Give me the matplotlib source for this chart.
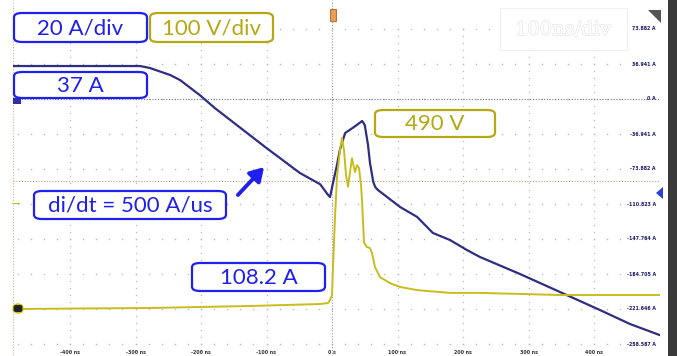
import numpy as np
import matplotlib
matplotlib.use('Agg')
from matplotlib import pyplot as plt
import matplotlib.patheffects as pe
from matplotlib.patches import FancyBboxPatch, Rectangle, Polygon, FancyArrowPatch

matplotlib.rcParams['font.family'] = ['Lato', 'DejaVu Sans']

# scope waveforms
# current (ch1), time in ns, amps
t_cur = [-487, -293, -278, -247, -232, -202, -179, -102, -49, -18, -6, -3,
         1.5, 7.6, 12, 20, 27, 38, 46, 50, 55, 58, 63, 66, 70, 84, 104,
         130, 154, 180, 206, 226, 287, 348, 409, 455, 504]
i_cur = [34.8, 34.8, 32.7, 25.3, 20.0, 4.2, -9.5, -50.7, -78.1, -90.0, -101.3, -103.4,
         -88.7, -69.7, -53.8, -35.9, -32.7, -27.4, -23.2, -27.4, -48.6, -67.5, -87.6,
         -92.9, -96.0, -103.4, -114.0, -124.5, -141.4, -148.8, -159.4, -166.8,
         -184.7, -203.7, -222.7, -237.5, -250.1]
# voltage (ch2), time in ns, volts
t_volt = [-487, -278, -125, -18, -6, -3, 0, 1.5, 4.6, 7.6, 12.2, 15.3, 18.3,
          21.4, 24.4, 27.5, 30.5, 33.6, 35.1, 38.2, 41.2, 44.3, 45.8, 48.9,
          53.4, 58.0, 61.1, 65.6, 73.3, 88.5, 103.8, 129.8, 180, 226, 348, 501]
v_volt = [0, 2.9, 8.6, 14.3, 17.1, 25.7, 40, 120, 263, 377, 454, 489, 454,
          383, 349, 391, 431, 403, 391, 411, 403, 354, 311, 189, 177, 174,
          160, 120, 91, 74, 63, 54, 46, 46, 40, 40]

# right scale labels (A) and time labels
amp_div = 36.941
amp_ticks = [73.882 - k * amp_div for k in range(10)]
time_ticks = [-400, -300, -200, -100, 0, 100, 200, 300, 400]
time_labels = ['-400 ns', '-300 ns', '-200 ns', '-100 ns', '0 s',
               '100 ns', '200 ns', '300 ns', '400 ns']

W, H = 677, 356
fig = plt.figure(figsize=(W / 100, H / 100), dpi=100)
fig.patch.set_facecolor('white')

# pixel helpers (screen coords from screenshot)
ns_per_px = 100 / 65.5
a_per_px = amp_div / 35.0
v_per_px = 100 / 35.0
def t_of(x):
    return (x - 332) * ns_per_px
def a_of(y):
    return (99 - y) * a_per_px
def v_of(y):
    return (309 - y) * v_per_px

x0, x1 = 13, 660
ax = fig.add_axes([x0 / W, 0, (x1 - x0) / W, 1])
ax.set_xlim(t_of(x0), t_of(x1))
ax.set_ylim(a_of(H), a_of(0))
ax.axis('off')
axv = ax.twinx()
axv.set_ylim(v_of(H), v_of(0))
axv.axis('off')

# graticule dots
gcol = '#b9b9b9'
for tt in time_ticks:
    if tt == 0:
        continue
    ys = np.arange(-258.587 - amp_div / 5 * 2, 80, amp_div / 5)
    ax.plot([tt] * len(ys), ys, ls='none', marker='s', ms=0.9, mew=0, color=gcol)
for aa in amp_ticks:
    xs = np.arange(-480, 500, 20)
    ax.plot(xs, [aa] * len(xs), ls='none', marker='s', ms=1.0, mew=0, color=gcol)
ax.axvline(0, color='#9a9a9a', ls=(0, (1, 1.5)), lw=0.8)
ax.axvline(t_of(x0), color='#d8b890', ls=(0, (1, 1.5)), lw=0.8)
ax.axvline(t_of(x1), color='#c8c8c8', ls=(0, (1, 2)), lw=0.8)
ax.axhline(0, color='#7a7a90', ls=(0, (1, 1.5)), lw=0.8)
ax.axhline(a_of(181), color='#c8a070', ls=(0, (1, 1.5)), lw=0.8)

# traces
axv.plot(t_volt, v_volt, color='#c9bd1c', lw=1.4, zorder=3)
ax.plot(t_cur, i_cur, color='#2e2e82', lw=1.6, zorder=4)

# right amp labels, bottom time labels
for aa in amp_ticks:
    lbl = '0 A' if abs(aa) < 1e-6 else f'{aa:.3f} A'
    ax.text(t_of(656), aa, lbl, ha='right', va='center', fontsize=3.4,
            color='#1c1c6e', fontweight='bold', family='DejaVu Sans')
for tt, lbl in zip(time_ticks, time_labels):
    ax.text(tt, a_of(352), lbl, ha='center', va='center', fontsize=3.4,
            color='#333333', fontweight='bold', family='DejaVu Sans')

def fx(x):
    return x / W
def fy(y):
    return 1 - y / H

# right dark bar, corner triangle, markers
fig.patches.append(Rectangle((fx(668), 0), fx(9), 1, transform=fig.transFigure,
                             facecolor='#3a3a3a', edgecolor='none'))
fig.patches.append(Polygon([(fx(648), fy(10)), (fx(661), fy(10)), (fx(661), fy(23))],
                           closed=True, transform=fig.transFigure,
                           facecolor='#555555', edgecolor='none'))
fig.patches.append(Rectangle((fx(330), fy(21)), fx(6), 12 / H, transform=fig.transFigure,
                             facecolor='#e8a050', edgecolor='#b06020', lw=0.6))
fig.patches.append(Rectangle((fx(13), fy(104)), fx(8), 6 / H, transform=fig.transFigure,
                             facecolor='#3030a0', edgecolor='none'))
fig.patches.append(FancyBboxPatch((fx(13), fy(313)), fx(10), 9 / H, transform=fig.transFigure,
                                  boxstyle='round,pad=0,rounding_size=0.008',
                                  facecolor='#222222', edgecolor='#d8d020', lw=0.8))
fig.patches.append(Rectangle((fx(12), fy(204)), fx(8), 1.2 / H, transform=fig.transFigure,
                             facecolor='#c9bd1c', edgecolor='none'))
fig.patches.append(Polygon([(fx(656), fy(193)), (fx(663), fy(187)), (fx(663), fy(199))],
                           closed=True, transform=fig.transFigure,
                           facecolor='#2a40d0', edgecolor='none'))

# faint watermark box
fig.patches.append(Rectangle((fx(500), fy(50)), fx(127), 42 / H, transform=fig.transFigure,
                             facecolor='white', edgecolor='#efefef', lw=0.8))
fig.text(fx(563), fy(30), '100ns/div', ha='center', va='center', fontsize=14,
         color='white', family='DejaVu Serif',
         path_effects=[pe.withStroke(linewidth=1.0, foreground='#e8e8e8')])

BLUE = '#1f1ff0'
OLIVE = '#b5a812'
def label_box(xa, ya, xb, yb, text, color):
    fig.patches.append(FancyBboxPatch((fx(xa), fy(yb)), fx(xb - xa), (yb - ya) / H,
                                      transform=fig.transFigure,
                                      boxstyle='round,pad=0,rounding_size=0.012',
                                      facecolor='white', edgecolor=color, lw=1.6, zorder=5))
    fig.text(fx((xa + xb) / 2), fy((ya + yb) / 2 + 1), text, ha='center', va='center',
             fontsize=16, color=color, zorder=6)

label_box(14, 13, 147, 42, '20 A/div', BLUE)
label_box(150, 13, 273, 42, '100 V/div', OLIVE)
label_box(14, 72, 147, 98, '37 A', BLUE)
label_box(375, 110, 495, 137, '490 V', OLIVE)
label_box(34, 191, 226, 219, 'di/dt = 500 A/us', BLUE)
label_box(192, 263, 325, 291, '108.2 A', BLUE)

fig.patches.append(FancyArrowPatch((fx(236), fy(197)), (fx(266), fy(165)),
                                   transform=fig.transFigure,
                                   arrowstyle='-|>,head_length=5,head_width=3',
                                   color=BLUE, lw=2.8, mutation_scale=1.6))

fig.savefig('out.png', dpi=100, facecolor='white')
